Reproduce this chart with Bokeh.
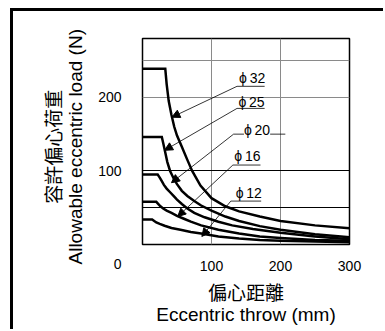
from bokeh.plotting import figure
from bokeh.models import FixedTicker, Grid, Label, Arrow, NormalHead, Range1d
from bokeh.embed import file_html
from bokeh.resources import INLINE

# ---- data ----
throw_32 = [0, 33, 35, 38, 42, 46, 50, 57, 65, 72, 84, 100, 120, 140, 170, 200, 250, 300]
load_32 = [239, 239, 218, 195, 176, 160, 148, 133, 115, 100, 80, 63, 52, 45, 38, 32, 26, 22]

throw_25 = [0, 28, 30, 33, 36, 40, 45, 50, 57, 65, 75, 85, 100, 120, 140, 170, 200, 250, 300]
load_25 = [146, 146, 138, 125, 112, 100, 90, 82, 73, 66, 59, 53, 46, 38, 32, 25, 20, 14, 10]

throw_20 = [0, 22, 25, 28, 31, 35, 40, 45, 50, 57, 65, 75, 90, 110, 130, 160, 200, 250, 300]
load_20 = [95, 95, 91, 86, 81, 76, 71, 66, 61, 55, 49, 43, 37, 31, 26, 21, 16, 11, 7]

throw_16 = [0, 20, 23, 26, 30, 35, 42, 50, 60, 70, 85, 110, 140, 170, 200, 250, 300]
load_16 = [58, 58, 55, 52, 49, 46, 43, 39, 35, 31, 26, 20, 15, 11, 9, 6, 5]

throw_12 = [0, 14, 17, 20, 25, 32, 42, 55, 70, 85, 110, 140, 170, 200, 250, 300]
load_12 = [34, 34, 32, 30, 28, 25.5, 22.5, 20, 17, 15, 11, 8, 6, 5, 4, 3]

series = [(throw_32, load_32), (throw_25, load_25), (throw_20, load_20),
          (throw_16, load_16), (throw_12, load_12)]

x_ticks = [100, 200, 300]
y_ticks = [0, 100, 200]
y_tick_text = {0: "\n\n0", 100: "100", 200: "200"}
grid_gray_y = [200, 250]
grid_dark_y = [50, 100]

label_texts = ["ϕ\u200932", "ϕ\u200925", "ϕ\u200920", "ϕ\u200916", "ϕ\u200912"]
# annotation placement (label centre, leader start, arrow tip, underline end) in data units
label_pos = [(159, 226), (158, 194), (166, 155), (152, 120), (154, 70)]
leader_start = [(137, 215), (137, 185), (132, 150), (131, 108), (128, 59)]
leader_tip = [(42.5, 173), (32, 128), (42, 84), (51, 38), (86, 11)]
underline_end = [177, 177, 207, 171, 172]

FONT = "Liberation Sans, Noto Sans CJK TC"
NB = "\u00a0\u00a0"

p = figure(width=370, height=318, output_backend="svg", toolbar_location=None,
           x_range=Range1d(0, 300), y_range=Range1d(0, 280),
           min_border_left=129, min_border_top=27, min_border_right=34, min_border_bottom=85,
           frame_width=207, frame_height=206)
p.styles = {"margin-left": "10px", "margin-top": "8px",
            "border-left": "3px solid black", "border-top": "3px solid black"}

p.outline_line_color = "black"
p.outline_line_width = 1.5
p.background_fill_color = "white"
p.border_fill_color = "white"

for ax in (p.xaxis[0], p.yaxis[0]):
    ax.axis_line_color = None
    ax.major_tick_line_color = None
    ax.minor_tick_line_color = None
    ax.major_label_text_font = FONT
    ax.major_label_text_font_size = "14px"
    ax.major_label_text_color = "black"
    ax.axis_label_text_font = FONT
    ax.axis_label_text_font_size = "19px"
    ax.axis_label_text_font_style = "normal"
    ax.axis_label_text_color = "black"
    ax.axis_label_text_line_height = 1.0

p.xaxis.ticker = FixedTicker(ticks=x_ticks)
p.yaxis.ticker = FixedTicker(ticks=y_ticks)
p.yaxis.major_label_overrides = y_tick_text
p.xaxis.major_label_standoff = 10
p.yaxis.major_label_standoff = 15
p.xaxis.axis_label = "偏心距離\nEccentric throw (mm)"
p.yaxis.axis_label = "容許偏心荷重" + NB + "\nAllowable eccentric load (N)" + NB
p.xaxis.axis_label_standoff = 9
p.yaxis.axis_label_standoff = 9

p.xgrid.ticker = FixedTicker(ticks=x_ticks)
p.xgrid.grid_line_color = "#8a8a8a"
p.xgrid.grid_line_width = 1
p.ygrid.ticker = FixedTicker(ticks=grid_gray_y)
p.ygrid.grid_line_color = "#8a8a8a"
p.ygrid.grid_line_width = 1
p.add_layout(Grid(dimension=1, ticker=FixedTicker(ticks=grid_dark_y),
                  grid_line_color="black", grid_line_width=1))

for xs, ys in series:
    p.line(xs, ys, line_color="black", line_width=2.5, line_join="miter")

for txt, (lx, ly), (sx, sy), (tx, ty), ue in zip(label_texts, label_pos, leader_start,
                                                 leader_tip, underline_end):
    p.line([sx, ue], [sy, sy], line_color="black", line_width=0.8)
    p.add_layout(Arrow(x_start=sx, y_start=sy, x_end=tx, y_end=ty,
                       line_color="black", line_width=0.8,
                       end=NormalHead(size=8, fill_color="black", line_color="black")))
    p.add_layout(Label(x=lx, y=ly, text=txt, text_align="center", text_baseline="middle",
                       text_font=FONT, text_font_size="14px", text_color="black",
                       background_fill_color="white" if txt.endswith("20") else None))

open("out.html", "w").write(file_html(p, INLINE))
